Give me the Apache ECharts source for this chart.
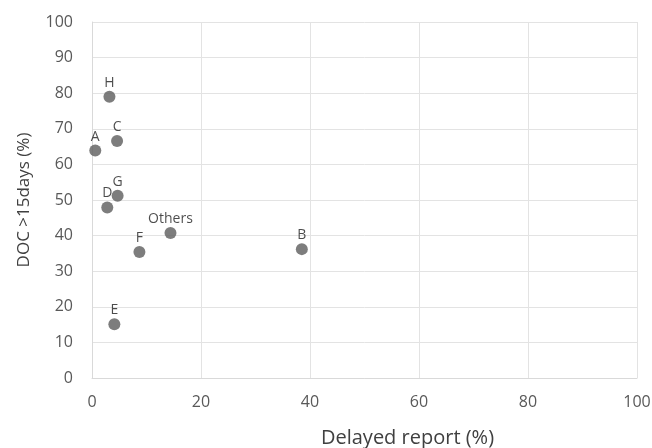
<!DOCTYPE html>
<html><head><meta charset="utf-8">
<script src="https://cdn.jsdelivr.net/npm/echarts@6/dist/echarts.min.js"></script>
<style>html,body{margin:0;padding:0;background:#fff}#c{width:652px;height:448px}</style>
</head><body><div id="c"></div>
<script>
var names = ['H','C','A','G','D','Others','F','B','E'];
var xValues = [3.2, 4.6, 0.6, 4.7, 2.8, 14.4, 8.7, 38.5, 4.1];
var yValues = [79.0, 66.6, 63.9, 51.2, 47.9, 40.7, 35.4, 36.2, 15.1];
var data = names.map(function(n,i){return {name:n, value:[xValues[i], yValues[i]]};});
var chart = echarts.init(document.getElementById('c'));
var font = '"Open Sans", "Noto Sans", sans-serif';
chart.setOption({
  animation:false,
  grid:{left:92,right:15,top:22,bottom:70,outerBoundsMode:'none',containLabel:false},
  xAxis:{type:'value',min:0,max:100,interval:20,
    name:'Delayed report (%)',nameLocation:'middle',nameGap:50,
    nameTextStyle:{color:'#404040',fontSize:20,fontFamily:font,padding:[0,0,0,86]},
    axisLine:{show:true,lineStyle:{color:'#d9d9d9'}},axisTick:{show:false},
    axisLabel:{color:'#595959',fontSize:16,fontFamily:font,margin:16},
    splitLine:{show:true,lineStyle:{color:'#e3e3e3'}}},
  yAxis:{type:'value',min:0,max:100,interval:10,
    name:'DOC >15days (%)',nameLocation:'middle',nameGap:59,
    nameTextStyle:{color:'#404040',fontSize:17,fontFamily:font},
    axisLine:{show:true,lineStyle:{color:'#d9d9d9'}},axisTick:{show:false},
    axisLabel:{color:'#595959',fontSize:16,fontFamily:font,margin:19},
    splitLine:{show:true,lineStyle:{color:'#e3e3e3'}}},
  series:[{type:'scatter',data:data,symbolSize:12,
    itemStyle:{color:'#5c5c5c'},
    label:{show:true,position:'top',distance:1,formatter:'{b}',color:'#1f1f1f',fontSize:14,fontFamily:font}}]
});
</script></body></html>
